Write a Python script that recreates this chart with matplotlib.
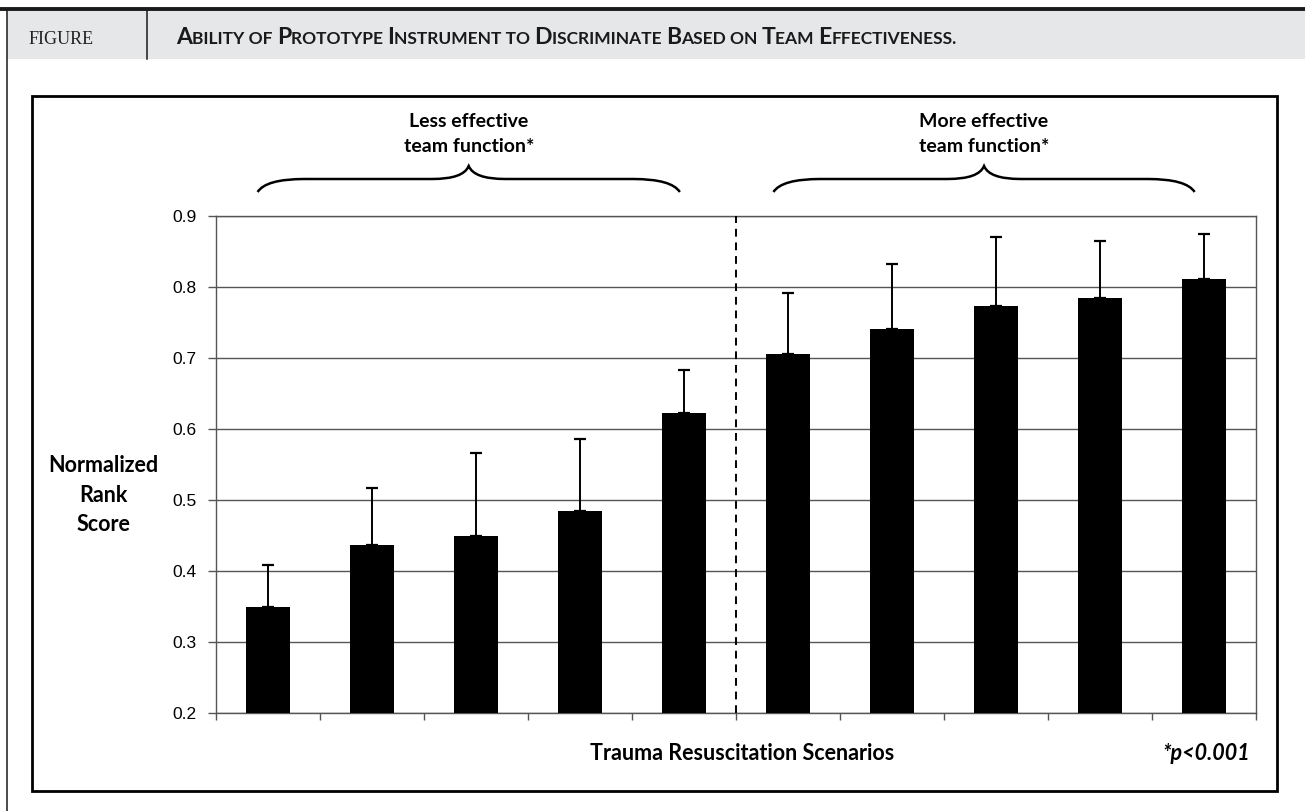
import matplotlib
matplotlib.use("Agg")
import matplotlib.pyplot as plt
from matplotlib.path import Path
from matplotlib.patches import PathPatch, Rectangle
from matplotlib.lines import Line2D
import matplotlib.transforms as mtrans

# data
scenarios = list(range(1, 11))
scores = [0.350, 0.436, 0.450, 0.484, 0.623, 0.706, 0.741, 0.773, 0.784, 0.811]
err_up = [0.058, 0.081, 0.116, 0.102, 0.060, 0.086, 0.091, 0.098, 0.081, 0.063]
yticks = [0.2, 0.3, 0.4, 0.5, 0.6, 0.7, 0.8, 0.9]
groups = ["Less effective\nteam function*", "More effective\nteam function*"]
title = "Ability of Prototype Instrument to Discriminate Based on Team Effectiveness."

W, H = 1305, 811
fig = plt.figure(figsize=(W / 100, H / 100), dpi=100)

def fx(px):
    return px / W

def fy(py):
    return (H - py) / H

# header band and frame lines
fig.patches.append(Rectangle((fx(7), fy(59)), fx(W - 7), (59 - 10) / H, transform=fig.transFigure,
                             facecolor="#e6e7e9", edgecolor="none", zorder=0))
fig.lines.append(Line2D([0, 1], [fy(9), fy(9)], transform=fig.transFigure, color="#1a1a1a", lw=2.8))
fig.lines.append(Line2D([fx(7), fx(7)], [fy(10), 0], transform=fig.transFigure, color="#1a1a1a", lw=1.1))
fig.lines.append(Line2D([fx(147), fx(147)], [fy(10), fy(59)], transform=fig.transFigure, color="#1a1a1a", lw=1.1))
fig.patches.append(Rectangle((fx(32), fy(791)), fx(1277 - 32), (791 - 96) / H, transform=fig.transFigure,
                             facecolor="none", edgecolor="black", lw=2.0, zorder=1))

fig.text(fx(29), fy(44), "FIGURE", family="Liberation Serif", fontsize=13, color="#222222", va="baseline")

# small caps title
renderer = fig.canvas.get_renderer()
runs = []
for ch in title:
    size = 16.6 if ch.isupper() else 12.5
    if runs and runs[-1][1] == size:
        runs[-1][0] += ch.upper()
    else:
        runs.append([ch.upper(), size])
x = 176
for txt, size in runs:
    t = fig.text(fx(x), fy(43.5), txt, family="Lato", fontweight="bold", fontsize=size,
                 color="#1a1a1a", va="baseline", ha="left")
    x += t.get_window_extent(renderer=renderer).width

# chart
ax = fig.add_axes([fx(216), fy(713), fx(1256 - 216), (713 - 216) / H])
pos = [i for i in range(len(scenarios))]
ax.bar(pos, scores, width=0.42, bottom=0, color="black", zorder=3)
ax.errorbar(pos, scores, yerr=[[0] * len(err_up), err_up], fmt="none", ecolor="black",
            elinewidth=1.4, capsize=4, capthick=1.6, zorder=4)
ax.set_ylim(0.2, 0.9)
ax.set_xlim(-0.5, len(scenarios) - 0.5)
ax.set_yticks(yticks)
ax.set_yticklabels([f"{v:.1f}" for v in yticks], family="Liberation Sans", fontsize=12.5)
ax.yaxis.grid(True, color="#555555", lw=1.0, zorder=0)
ax.set_axisbelow(True)
ax.set_xticks([i - 0.5 for i in range(len(scenarios) + 1)])
ax.set_xticklabels([])
ax.tick_params(axis="x", length=5, color="#555555", width=1)
ax.tick_params(axis="y", length=6, color="#555555", width=1, pad=8)
for s in ax.spines.values():
    s.set_color("#555555")
    s.set_linewidth(1.0)
ax.axvline(4.5, color="black", lw=1.4, ls=(0, (4, 3)), zorder=5)

# braces above groups
bt = mtrans.blended_transform_factory(ax.transData, fig.transFigure)
ye, yf, yt = fy(192), fy(179), fy(166)
for (x0, x1), label in zip([(-0.1, 3.96), (4.86, 8.91)], groups):
    xm = (x0 + x1) / 2
    verts = [(x0, ye), (x0 + 0.08, yf), (x0 + 0.45, yf), (xm - 0.35, yf),
             (xm - 0.05, yf), (xm, yt), (xm + 0.05, yf), (xm + 0.35, yf),
             (x1 - 0.45, yf), (x1 - 0.08, yf), (x1, ye)]
    codes = [Path.MOVETO, Path.CURVE3, Path.CURVE3, Path.LINETO, Path.CURVE3, Path.CURVE3,
             Path.CURVE3, Path.CURVE3, Path.LINETO, Path.CURVE3, Path.CURVE3]
    fig.patches.append(PathPatch(Path(verts, codes), transform=bt, facecolor="none",
                                 edgecolor="black", lw=1.8))
    fig.text(xm, fy(134), label, transform=bt, ha="center", va="center",
             family="Lato", fontweight="bold", fontsize=14, linespacing=1.6)

fig.text(fx(103), fy(495), "Normalized\nRank\nScore", ha="center", va="center",
         family="Lato", fontweight="bold", fontsize=15.5, linespacing=1.5)
fig.text(fx(742), fy(754), "Trauma Resuscitation Scenarios", ha="center", va="center",
         family="Lato", fontweight="bold", fontsize=15.5)
fig.text(fx(1206), fy(754), "*p<0.001", ha="center", va="center",
         family="Lato", fontweight="bold", style="italic", fontsize=15.5)

fig.savefig("out.png", dpi=100)
